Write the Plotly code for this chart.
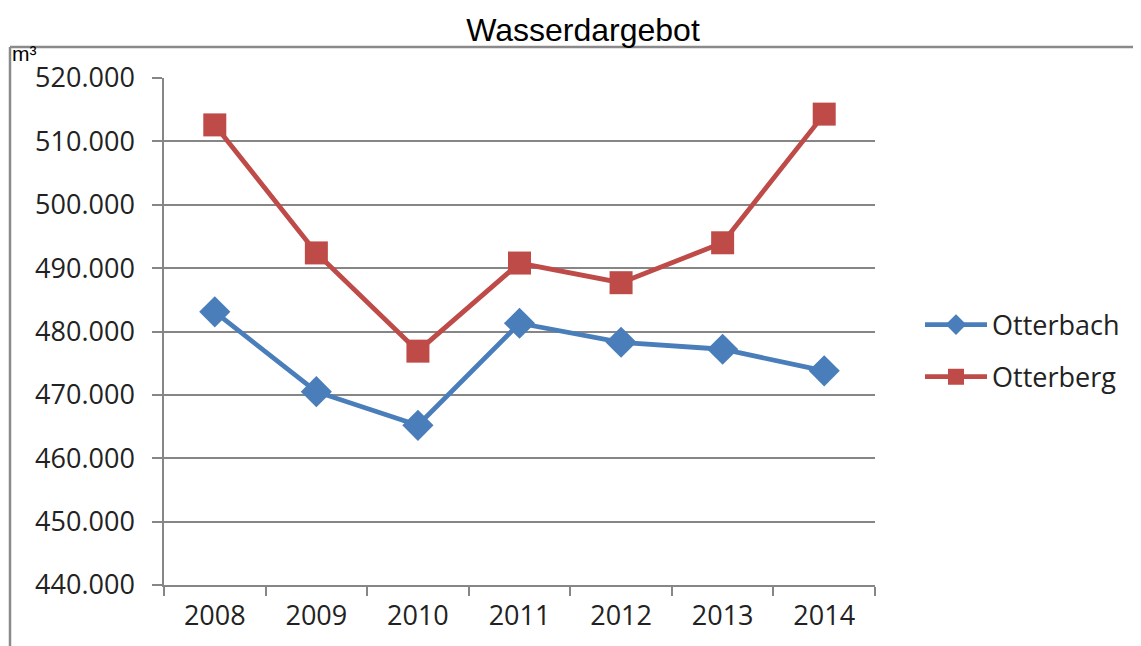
import plotly.graph_objects as go

years = ["2008", "2009", "2010", "2011", "2012", "2013", "2014"]
otterbach = [483100, 470500, 465200, 481300, 478300, 477200, 473800]
otterberg = [512600, 492400, 476900, 490800, 487700, 494000, 514300]
y_ticks = [440000, 450000, 460000, 470000, 480000, 490000, 500000, 510000, 520000]
y_tick_labels = ["440.000", "450.000", "460.000", "470.000", "480.000", "490.000", "500.000", "510.000", "520.000"]

# page has an 8px body margin; work in page pixels and convert
OFF = 8
W, H = 1141 - OFF, 646 - OFF
L, R, T, B = 164, 875, 78, 585  # page pixels of plot area

fig = go.Figure()
fig.add_trace(go.Scatter(
    x=years, y=otterbach, name="Otterbach", mode="lines+markers", legendgroup="a",
    line=dict(color="#4A7EBB", width=4.8),
    marker=dict(symbol="diamond", size=24, color="#4A7EBB"),
))
fig.add_trace(go.Scatter(
    x=years, y=otterberg, name="Otterberg", mode="lines+markers", legendgroup="b",
    line=dict(color="#BE4B48", width=4.8),
    marker=dict(symbol="square", size=23, color="#BE4B48"),
))

def px_x(p):
    return (p - L) / (R - L)

def px_y(p):
    return (B - p) / (B - T)

fig.update_layout(
    width=W, height=H,
    margin=dict(l=L - OFF, r=W - (R - OFF), t=T - OFF, b=H - (B - OFF), autoexpand=False),
    paper_bgcolor="white", plot_bgcolor="white",
    title=dict(text="Wasserdargebot", x=(583 - OFF) / W, xanchor="center", y=1 - (30 - OFF) / H, yanchor="middle",
               font=dict(family="Liberation Sans, Arial", size=32, color="black")),
    font=dict(family="Open Sans, sans-serif", color="#222"),
    showlegend=True,
    legend=dict(x=px_x(920), y=px_y(351), xanchor="left", yanchor="middle",
                font=dict(size=27, family="Open Sans", color="#222"),
                tracegroupgap=14, itemwidth=62, bgcolor="rgba(0,0,0,0)"),
    xaxis=dict(
        type="category", tickson="boundaries", ticks="outside", ticklen=9, tickwidth=1.5,
        tickcolor="#868686", showline=True, linecolor="#868686", linewidth=1.5,
        showgrid=False, tickfont=dict(size=27, family="Open Sans", color="#222"),
        range=[-0.5, 6.5], fixedrange=True, ticklabelstandoff=6,
    ),
    yaxis=dict(
        range=[440000, 520000], tickvals=y_ticks, ticktext=y_tick_labels,
        ticks="outside", ticklen=10, tickwidth=1.5, tickcolor="#868686",
        showline=True, linecolor="#868686", linewidth=1.5,
        showgrid=True, gridcolor="#868686", gridwidth=1.5, zeroline=False,
        tickfont=dict(size=27, family="Open Sans", color="#222"), ticklabelstandoff=12,
    ),
    shapes=[
        dict(type="line", xref="paper", yref="paper", x0=px_x(10), x1=px_x(1141), y0=px_y(47), y1=px_y(47),
             line=dict(color="#8a8a8a", width=2.5)),
        dict(type="line", xref="paper", yref="paper", x0=px_x(10), x1=px_x(10), y0=px_y(47), y1=px_y(646),
             line=dict(color="#8a8a8a", width=2.5)),
    ],
    annotations=[
        dict(text="m³", xref="paper", yref="paper", x=px_x(10), y=px_y(40), xanchor="left", yanchor="top",
             showarrow=False, font=dict(family="Liberation Sans, Arial", size=21, color="black")),
    ],
)

fig.write_html("out.html")
